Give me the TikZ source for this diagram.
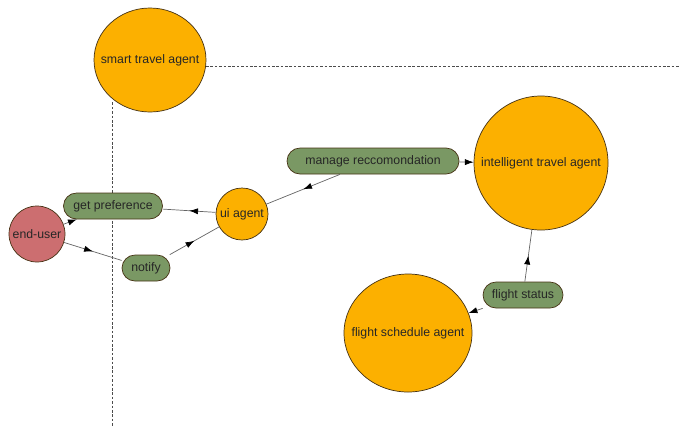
\documentclass[tikz,border=0pt]{standalone}
\usepackage{fontspec}
\setmainfont{Liberation Sans}
\usetikzlibrary{arrows.meta, positioning, shapes.geometric, decorations.markings}
\definecolor{AO}{RGB}{252,176,0}
\definecolor{AG}{RGB}{122,152,100}
\definecolor{AR}{RGB}{204,110,112}
\definecolor{DB}{RGB}{70,50,20}
\definecolor{LN}{RGB}{100,100,100}
\newcommand{\agtext}[1]{\makebox[0pt]{#1}}

\begin{document}
\begin{tikzpicture}[
  agent/.style={ellipse, draw=DB, fill=#1, inner sep=0pt,
                font=\fontsize{7}{8}\selectfont, text=black!85},
  task/.style={draw=DB, rounded corners=0.26cm, fill=AG,
               minimum height=0.52cm, inner sep=1pt,
               font=\fontsize{7}{8}\selectfont, text=black!85},
  flow/.style={draw=LN, -{Latex[length=5pt, width=3.5pt, color=black]}},
  mid/.style={draw=LN, decoration={markings,
              mark=at position 0.5 with {\arrow{Latex[length=5pt, width=3.5pt, color=black]}}},
              postaction={decorate}},
  border/.style={draw=black!70, dash pattern=on 1.5pt off 1pt}
]
\useasboundingbox (0,0) rectangle (13.58,-8.54);

% system boundary
\node[agent=AO, minimum width=2.24cm, minimum height=2.08cm] (smart) at (3.0,-1.2)
  {\agtext{smart travel agent}};
\coordinate (hend) at (13.58,-1.3);
\coordinate (vend) at (2.24,-8.54);
\draw[border] (smart.-6) -- (smart.-6 -| hend);
\draw[border] (vend |- smart.-128) -- (vend);

% user side
\node[agent=AR, circle, minimum size=1.12cm] (user) at (0.74,-4.68) {\agtext{end-user}};
\node[task, minimum width=1.98cm] (pref) at (2.26,-4.12) {get preference};
\node[task, minimum width=0.96cm] (notify) at (2.92,-5.36) {notify};
\node[agent=AO, circle, minimum size=1.04cm] (ui) at (4.84,-4.28) {\agtext{ui agent}};

% travel side
\node[task, minimum width=3.44cm] (manage) at (7.46,-3.22) {manage reccomondation};
\node[agent=AO, minimum width=2.68cm, minimum height=2.68cm] (intel) at (10.82,-3.26)
  {\agtext{intelligent travel agent}};
\node[task, minimum width=1.6cm] (status) at (10.46,-5.9) {flight status};
\node[agent=AO, minimum width=2.56cm, minimum height=2.36cm] (sched) at (8.16,-6.66)
  {\agtext{flight schedule agent}};

% connectors
\draw[flow] (user) -- (pref);
\draw[mid] (user) -- (notify);
\draw[mid] (ui) -- (pref);
\draw[mid] (notify) -- (ui);
\draw[mid] (manage) -- (ui);
\draw[flow] (manage) -- (intel);
\draw[mid] (status) -- (intel);
\draw[flow] (status) -- (sched);
\end{tikzpicture}
\end{document}
